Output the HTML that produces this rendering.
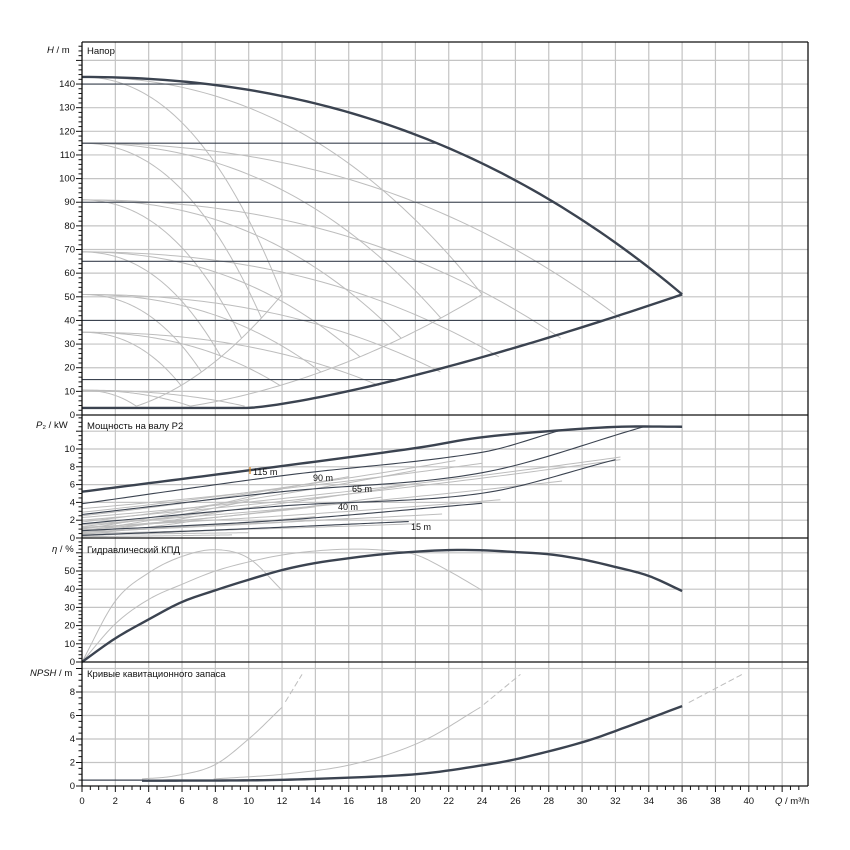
<!DOCTYPE html>
<html><head><meta charset="utf-8"><style>
html,body{margin:0;padding:0;background:#fff;}
svg{display:block;font-family:"Liberation Sans",Arial,sans-serif;}
.t{font-size:9.5px;fill:#111;}
.ty{font-size:9.5px;fill:#111;text-anchor:end;}
.tx{font-size:9.5px;fill:#111;text-anchor:middle;}
</style></head><body>
<svg id="s" width="850" height="850" viewBox="0 0 850 850" xmlns="http://www.w3.org/2000/svg">
<rect width="850" height="850" fill="#fff"/>
<g id="grid"></g>
<g id="curves"></g>
<g id="axes"></g>
<text x="47" y="53" class="t"><tspan font-style="italic">H</tspan> / m</text>
<text x="87" y="54" class="t">Напор</text>
<text x="36" y="428" class="t"><tspan font-style="italic">P</tspan>₂ / kW</text>
<text x="87" y="429" class="t">Мощность на валу P2</text>
<text x="52" y="552" class="t"><tspan font-style="italic">η</tspan> / %</text>
<text x="87" y="553" class="t">Гидравлический КПД</text>
<text x="30" y="676" class="t"><tspan font-style="italic">NPSH</tspan> / m</text>
<text x="87" y="677" class="t">Кривые кавитационного запаса</text>
<text x="775" y="804" class="t"><tspan font-style="italic">Q</tspan> / m³/h</text>
<text x="253" y="475" class="t" style="font-size:9px">115 m</text>
<text x="313" y="481" class="t" style="font-size:9px">90 m</text>
<text x="352" y="492" class="t" style="font-size:9px">65 m</text>
<text x="338" y="510" class="t" style="font-size:9px">40 m</text>
<text x="411" y="530" class="t" style="font-size:9px">15 m</text>
<line x1="250" y1="467" x2="250" y2="474" stroke="#e08a20" stroke-width="1.2"/>
<g>
<text x="75" y="418" class="ty">0</text><text x="75" y="394.4" class="ty">10</text>
<text x="75" y="370.7" class="ty">20</text><text x="75" y="347.1" class="ty">30</text>
<text x="75" y="323.4" class="ty">40</text><text x="75" y="299.8" class="ty">50</text>
<text x="75" y="276.2" class="ty">60</text><text x="75" y="252.5" class="ty">70</text>
<text x="75" y="228.9" class="ty">80</text><text x="75" y="205.2" class="ty">90</text>
<text x="75" y="181.6" class="ty">100</text><text x="75" y="158" class="ty">110</text>
<text x="75" y="134.3" class="ty">120</text><text x="75" y="110.7" class="ty">130</text>
<text x="75" y="87" class="ty">140</text>
<text x="75" y="541" class="ty">0</text><text x="75" y="523.2" class="ty">2</text>
<text x="75" y="505.4" class="ty">4</text><text x="75" y="487.6" class="ty">6</text>
<text x="75" y="469.8" class="ty">8</text><text x="75" y="452" class="ty">10</text>
<text x="75" y="665" class="ty">0</text><text x="75" y="646.8" class="ty">10</text>
<text x="75" y="628.6" class="ty">20</text><text x="75" y="610.4" class="ty">30</text>
<text x="75" y="592.2" class="ty">40</text><text x="75" y="574" class="ty">50</text>
<text x="75" y="789" class="ty">0</text><text x="75" y="765.5" class="ty">2</text>
<text x="75" y="742" class="ty">4</text><text x="75" y="718.5" class="ty">6</text>
<text x="75" y="695" class="ty">8</text>
<text x="82" y="804" class="tx">0</text><text x="115.3" y="804" class="tx">2</text>
<text x="148.7" y="804" class="tx">4</text><text x="182" y="804" class="tx">6</text>
<text x="215.4" y="804" class="tx">8</text><text x="248.7" y="804" class="tx">10</text>
<text x="282" y="804" class="tx">12</text><text x="315.4" y="804" class="tx">14</text>
<text x="348.7" y="804" class="tx">16</text><text x="382" y="804" class="tx">18</text>
<text x="415.4" y="804" class="tx">20</text><text x="448.7" y="804" class="tx">22</text>
<text x="482" y="804" class="tx">24</text><text x="515.4" y="804" class="tx">26</text>
<text x="548.8" y="804" class="tx">28</text><text x="582" y="804" class="tx">30</text>
<text x="615.4" y="804" class="tx">32</text><text x="648.8" y="804" class="tx">34</text>
<text x="682" y="804" class="tx">36</text><text x="715.4" y="804" class="tx">38</text>
<text x="748.8" y="804" class="tx">40</text>
</g>
</svg>
<script>
(function(){
var NS="http://www.w3.org/2000/svg";
function X(q){return 82+q*16.67;}
function YH(h){return 415-h*2.364;}
function YP(p){return 538-p*8.9;}
function YE(e){return 662-e*1.82;}
function YN(n){return 786-n*11.75;}
function el(g,tag,a){var e=document.createElementNS(NS,tag);for(var k in a)e.setAttribute(k,a[k]);document.getElementById(g).appendChild(e);return e;}
function line(g,x1,y1,x2,y2,c,w){el(g,"line",{x1:x1,y1:y1,x2:x2,y2:y2,stroke:c,"stroke-width":w});}
function path(g,pts,c,w,dash){var d="";for(var i=0;i<pts.length;i++)d+=(i?"L":"M")+pts[i][0].toFixed(2)+" "+pts[i][1].toFixed(2);var a={d:d,fill:"none",stroke:c,"stroke-width":w,"stroke-linejoin":"round"};if(dash)a["stroke-dasharray"]=dash;el(g,"path",a);}
function interp(P,q){
 var n=P.length; if(q<=P[0][0])return P[0][1]; if(q>=P[n-1][0])return P[n-1][1];
 var i=0;while(i<n-2&&q>P[i+1][0])i++;
 var p0=P[Math.max(i-1,0)],p1=P[i],p2=P[i+1],p3=P[Math.min(i+2,n-1)];
 var t=(q-p1[0])/(p2[0]-p1[0]);
 var m1=(p2[1]-p0[1])/(p2[0]-p0[0]||1)*(p2[0]-p1[0]);
 var m2=(p3[1]-p1[1])/(p3[0]-p1[0]||1)*(p2[0]-p1[0]);
 var t2=t*t,t3=t2*t;
 return (2*t3-3*t2+1)*p1[1]+(t3-2*t2+t)*m1+(-2*t3+3*t2)*p2[1]+(t3-t2)*m2;}
function curve(g,P,q0,q1,Yf,c,w,dash){var pts=[];var N=80;for(var i=0;i<=N;i++){var q=q0+(q1-q0)*i/N;pts.push([X(q),Yf(interp(P,q))]);}path(g,pts,c,w,dash);}
function fcurve(g,f,q0,q1,Yf,c,w,dash){var pts=[];var N=80;for(var i=0;i<=N;i++){var q=q0+(q1-q0)*i/N;pts.push([X(q),Yf(f(q))]);}path(g,pts,c,w,dash);}
var GR="#c4c4c4",DK="#3b4350",LG="#bdbdbd";
for(var q=2;q<=42;q+=2){line("grid",X(q),42,X(q),786,GR,1.2);}
for(var h=10;h<=150;h+=10)line("grid",82,YH(h),808,YH(h),GR,1.2);
for(var p=2;p<=12;p+=2)line("grid",82,YP(p),808,YP(p),GR,1.2);
for(var e=10;e<=60;e+=10)line("grid",82,YE(e),808,YE(e),GR,1.2);
for(var n=2;n<=10;n+=2)line("grid",82,YN(n),808,YN(n),GR,1.2);
function Gf(q){if(q>36)q=36;return 143-0.0485*q*q-0.000624*q*q*q;}
function low(q){return q<=10?3:3+48*Math.pow((q-10)/26,1.3);}
var S=[143,115,91,69,51,35,10.5];
for(var k=1;k<=3;k++){
 for(var j=0;j<S.length;j++){
  var s=S[j]/143; if(k==3&&j==0)continue;
  var qm=12*k*Math.sqrt(s);
  (function(s,k){fcurve("curves",function(q){return s*Gf(q*(3/k)/Math.sqrt(s));},0,qm,YH,LG,1);})(s,k);
 }
 if(k<3){var qa=12*k*Math.sqrt(10.5/143);
  (function(k){fcurve("curves",function(q){return 51*Math.pow(q/(12*k),2);},qa,12*k,YH,LG,1);})(k);}
}
function upperQ(h){for(var q=0;q<=36;q+=0.02){if(Gf(q)<=h)return q;}return 36;}
function lowerQ(h){for(var q=10;q<=36;q+=0.02){if(low(q)>=h)return q;}return 36;}
[140,115,90,65].forEach(function(h){line("curves",82,YH(h),X(upperQ(h)),YH(h),DK,1.1);});
[40,15].forEach(function(h){line("curves",82,YH(h),X(lowerQ(h)),YH(h),DK,1.1);});
fcurve("curves",Gf,0,36,YH,DK,2.4);
fcurve("curves",low,0,36,YH,DK,2.4);
var PG=[[3.3,24,8.4],[2.9,22.4,8.7],[2.3,32.3,9.1],[2.0,32.3,8.8],[1.5,28.8,6.4],[1.2,25.1,4.3],[0.9,21.6,2.7],[0.6,14,2.4],[0.4,10,0.6],
 [1.0,12,5.5],[0.8,10,4.2],[0.6,8.5,3],[0.4,7,2],[0.3,12,1.2],[0.9,18,4.6],[1.3,20,6.1],[1.8,20,7.6],[2.5,16,6.9],[1.1,14,3.5],[0.7,16,2.2],[0.5,20,1.6],[0.25,6,0.8],[0.15,9,0.35]];
PG.forEach(function(a){var p0=a[0],qe=a[1],pe=a[2];fcurve("curves",function(q){var t=q/qe;return p0+(pe-p0)*(0.75*t+0.25*t*t);},0,qe,YP,LG,1);});
curve("curves",[[0,0.3],[10,1.05],[19.6,1.85]],0,19.6,YP,DK,1.1);
curve("curves",[[0,0.82],[12,2.0],[24,3.9]],0,24,YP,DK,1.1);
curve("curves",[[0,1.6],[12,3.6],[23.9,5.0],[32,8.8]],0,32,YP,DK,1.1);
curve("curves",[[0,2.64],[12,5.2],[23.9,7.3],[33.7,12.5]],0,33.7,YP,DK,1.1);
curve("curves",[[0,3.85],[12,7.0],[23.9,9.6],[28.7,12.1]],0,28.7,YP,DK,1.1);
curve("curves",[[0,5.2],[10,7.6],[20,10.1],[23.9,11.3],[28.7,12.1],[32.3,12.5],[36,12.5]],0,36,YP,DK,2.4);
curve("curves",[[0,0],[2,33.5],[4,49],[6,58],[8,61.7],[10,57],[12,39.4]],0,12,YE,LG,1);
curve("curves",[[0,0],[2,21],[4,34.4],[6,42.7],[8,50],[10,55],[12,58.8],[14,61],[16,62],[18,61.5],[20,59],[22,50],[24,39.4]],0,24,YE,LG,1);
curve("curves",[[0,0],[2,13],[4,23.4],[6,33],[8,39.4],[10,45.2],[12,50.5],[14,54.4],[16,57],[18,59.2],[20,60.6],[22,61.5],[24,61.4],[26,60.4],[28,59.2],[30,56.4],[32,52.2],[34,47.3],[36,39]],0,36,YE,DK,2.4);
line("curves",82,YN(0.5),X(3.6),YN(0.5),DK,1.2);
curve("curves",[[3.6,0.6],[5.5,0.85],[7.9,1.76],[10,4],[12,6.7]],3.6,12,YN,LG,1);
curve("curves",[[12,6.7],[13.2,9.5]],12.2,13.2,YN,LG,1,"6 3");
curve("curves",[[7.9,0.6],[12.4,1.05],[16.4,1.9],[20.4,3.8],[23.9,6.7]],7.9,23.9,YN,LG,1);
curve("curves",[[23.9,6.7],[26.3,9.5]],24.1,26.3,YN,LG,1,"6 3");
curve("curves",[[3.6,0.45],[11,0.5],[15.8,0.7],[20.4,1.05],[24.4,1.85],[26.4,2.4],[30.2,3.8],[32.8,5.1],[36,6.8]],3.6,36,YN,DK,2.4);
curve("curves",[[36.4,7.1],[39.6,9.5]],36.4,39.6,YN,LG,1,"6 3");
line("axes",82,42,808,42,"#111",1.3);
line("axes",808,42,808,786,"#111",1.3);
line("axes",82,42,82,786,"#111",1.3);
line("axes",82,786,808,786,"#111",1.3);
[415,538,662].forEach(function(y){line("axes",82,y,808,y,"#111",1.3);});
for(var i=0;i<=86;i++){var q=i*0.5,x=X(q);if(x>808)break;line("axes",x,786,x,i%4==0?792:790,"#111",1);}
function yt(Yf,a,b,st,maj,ymin){for(var v=a;v<=b+1e-6;v+=st){var y=Yf(v);if(y<ymin)break;var m=Math.abs(v/maj-Math.round(v/maj))<1e-6;line("axes",m?76:78.5,y,82,y,"#111",1);}}
yt(YH,0,158,2,10,43);
yt(YP,0,13.8,0.5,2,416);
yt(YE,0,68,2,10,539);
yt(YN,0,10.5,0.5,2,663);
})();
</script>
</body></html>
